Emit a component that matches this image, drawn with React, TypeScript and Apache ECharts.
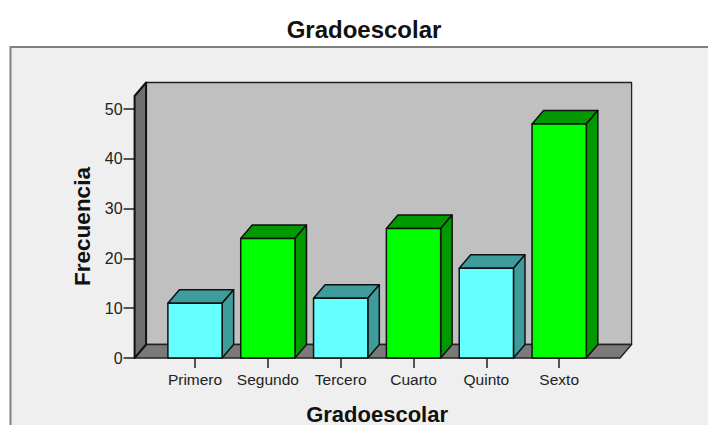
import React, { useEffect, useRef } from "react";
import * as echarts from "echarts";

const categories = ["Primero", "Segundo", "Tercero", "Cuarto", "Quinto", "Sexto"];
const frequencies = [11, 24, 12, 26, 18, 47];
const yTicks = { min: 0, max: 50, interval: 10 };
const titleText = "Gradoescolar";
const yAxisName = "Frecuencia";

const FONT = '"Liberation Sans", Arial, sans-serif';
const DEPTH_X = 11.5;
const DEPTH_Y = 13.5;
const PAD_LEFT = 24;
const PAD_RIGHT = 24.5;
const WALL_OVER = 13;
const BAR_FRACTION = 0.745;
const palette = [
  { front: "#66ffff", shade: "#3f9c9c" },
  { front: "#00ff00", shade: "#009900" },
];

function poly(points: number[][], fill: string, stroke: string, lineWidth: number) {
  return { type: "polygon", shape: { points }, style: { fill, stroke, lineWidth, lineJoin: "round" } };
}

function renderWalls(params: any) {
  const c = params.coordSys;
  const l = c.x - PAD_LEFT;
  const r = c.x + c.width + PAD_RIGHT;
  const b = c.y + c.height;
  const t = c.y - WALL_OVER;
  return {
    type: "group",
    children: [
      poly([[l + DEPTH_X, t - DEPTH_Y], [r + DEPTH_X, t - DEPTH_Y], [r + DEPTH_X, b - DEPTH_Y], [l + DEPTH_X, b - DEPTH_Y]], "#c0c0c0", "#222222", 1.3),
      poly([[l, b], [l + DEPTH_X, b - DEPTH_Y], [r + DEPTH_X, b - DEPTH_Y], [r, b]], "#7a7a7a", "#222222", 1.3),
      poly([[l, t], [l + DEPTH_X, t - DEPTH_Y], [l + DEPTH_X, b - DEPTH_Y], [l, b]], "#6e6e6e", "#111111", 2),
    ],
  };
}

function renderBar(params: any, api: any) {
  const i = api.value(0);
  const v = api.value(1);
  const top = api.coord([i, v]);
  const base = api.coord([i, 0]);
  const w = api.size([1, 0])[0] * BAR_FRACTION;
  const l = top[0] - w / 2;
  const r = top[0] + w / 2;
  const t = top[1];
  const b = base[1];
  const col = palette[params.dataIndex % 2];
  return {
    type: "group",
    children: [
      poly([[l, t], [l + DEPTH_X, t - DEPTH_Y], [r + DEPTH_X, t - DEPTH_Y], [r, t]], col.shade, "#111111", 1.5),
      poly([[r, t], [r + DEPTH_X, t - DEPTH_Y], [r + DEPTH_X, b - DEPTH_Y], [r, b]], col.shade, "#111111", 1.5),
      poly([[l, t], [r, t], [r, b], [l, b]], col.front, "#111111", 1.5),
    ],
  };
}

export default function App() {
  const ref = useRef<HTMLDivElement>(null);
  useEffect(() => {
    const chart = echarts.init(ref.current!, null, { renderer: "svg" });
    chart.setOption({
      animation: false,
      backgroundColor: "#ffffff",
      title: {
        text: titleText,
        left: 359,
        top: 12,
        textAlign: "center",
        textStyle: { fontFamily: FONT, fontSize: 24, fontWeight: "bold", color: "#111111" },
      },
      graphic: [
        {
          type: "rect",
          z: -10,
          shape: { x: 10.5, y: 47, width: 720, height: 400 },
          style: { fill: "#efefef", stroke: "#808080", lineWidth: 2 },
        },
      ],
      grid: { left: 158.6, top: 109, width: 437, height: 249, outerBoundsMode: "none" },
      xAxis: {
        type: "category",
        data: categories,
        axisLine: { show: false },
        axisTick: { show: true, alignWithLabel: true, length: 10, lineStyle: { color: "#222222", width: 1.5 } },
        axisLabel: { interval: 0, margin: 13, fontFamily: FONT, fontSize: 15.5, color: "#222222" },
        name: titleText,
        nameLocation: "middle",
        nameGap: 45,
        nameTextStyle: { fontFamily: FONT, fontSize: 22, fontWeight: "bold", color: "#111111" },
      },
      yAxis: {
        type: "value",
        min: yTicks.min,
        max: yTicks.max,
        interval: yTicks.interval,
        offset: PAD_LEFT,
        splitLine: { show: false },
        axisLine: { show: false },
        axisTick: { show: true, length: 11, lineStyle: { color: "#222222", width: 1.5 } },
        axisLabel: { margin: 12, fontFamily: FONT, fontSize: 16, color: "#222222" },
        name: yAxisName,
        nameLocation: "middle",
        nameGap: 38,
        nameTextStyle: { fontFamily: FONT, fontSize: 22.5, fontWeight: "bold", color: "#111111", padding: [0, 0, 0, 14] },
      },
      series: [
        { type: "custom", renderItem: renderWalls, data: [[0, 0]], silent: true, z: 1, encode: { x: 0, y: 1 } },
        {
          type: "custom",
          renderItem: renderBar,
          data: categories.map((c, i) => [c, frequencies[i]]),
          encode: { x: 0, y: 1 },
          z: 2,
        },
      ],
    });
    return () => chart.dispose();
  }, []);
  return <div ref={ref} style={{ position: "fixed", left: 0, top: 0, width: 708, height: 425 }} />;
}
